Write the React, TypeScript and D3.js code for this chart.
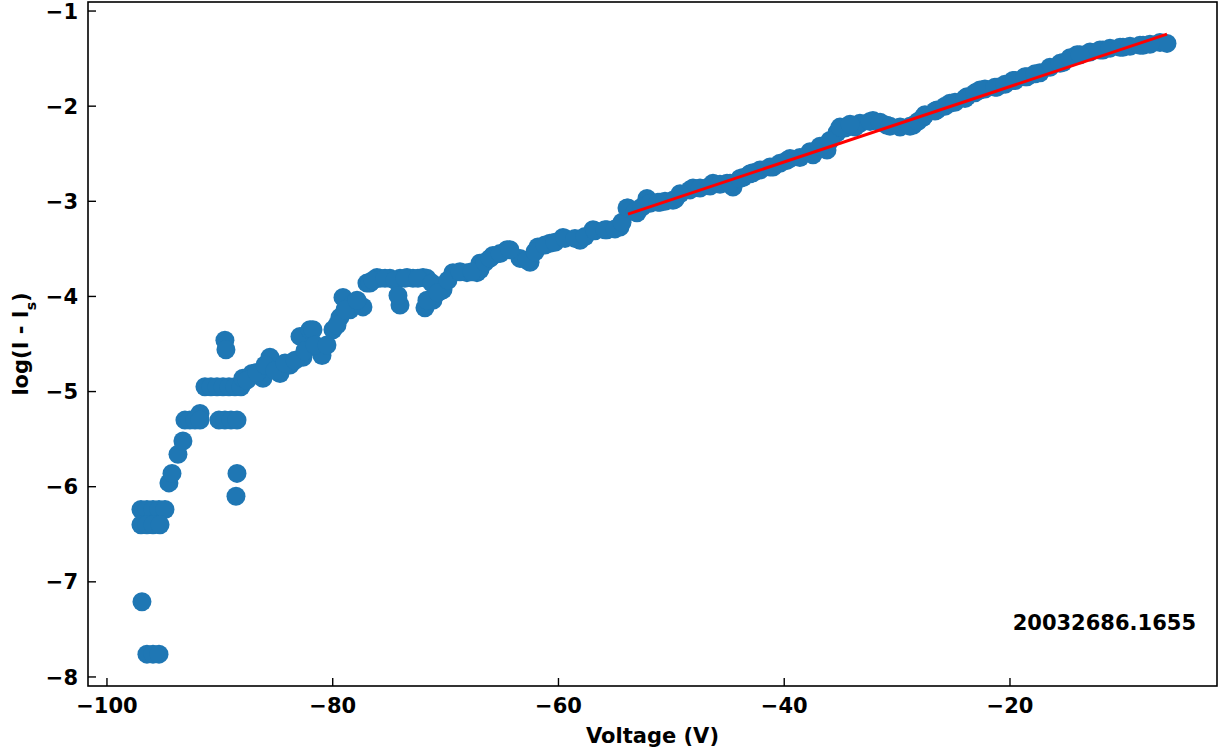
import React from "react";
import * as d3 from "d3";

const voltage: number[] = [
  -96.99, -96.46, -95.92, -95.39, -94.86,
  -96.99, -96.46, -95.92, -95.30,
  -96.90,
  -96.46, -95.92, -95.39,
  -94.51, -94.24, -93.71, -93.27, -93.09, -92.65, -92.20, -91.76, -91.76,
  -91.32, -90.79, -90.25, -89.72, -89.19, -88.66, -88.13,
  -89.55, -89.46,
  -90.08, -89.55, -89.01, -88.48,
  -88.48, -88.57,
  -87.95, -87.15, -86.18, -85.56, -84.67, -83.79, -82.64, -82.90, -82.02, -81.75,
  -80.95, -79.98, -79.36, -79.09, -78.47, -78.20, -77.32, -76.97, -76.70, -76.08,
  -75.81, -74.93, -74.04, -74.04, -73.42, -72.89, -72.00, -71.83, -71.65, -71.12,
  -70.23, -69.35, -68.11, -67.22, -66.95, -66.95, -65.80, -64.56, -63.41, -62.52,
  -61.82, -60.75, -59.60, -58.09, -56.94, -55.70, -54.55, -53.93, -53.04, -52.16,
  -51.01, -49.86, -48.35, -48.08, -46.31, -45.07, -44.54, -43.65, -42.77, -42.15,
  -40.99, -39.76, -38.61, -37.45, -36.21, -35.33, -34.44, -33.29, -32.14, -30.90,
  -29.74, -28.59, -27.71, -26.47, -25.32, -23.81, -22.66, -21.15, -19.73, -18.49,
  -17.34, -16.46, -15.30, -14.06, -12.91, -11.76, -9.99, -8.21, -6.71, -6.09,
  -87.60, -86.71, -86.00, -85.12, -84.23, -83.34, -82.46, -81.57,
  -80.51, -79.62, -78.91, -77.85, -76.43, -75.37, -74.48, -74.22, -73.60, -72.45,
  -71.65, -71.21, -70.68, -69.79, -68.73, -67.66, -66.51,
  -66.07, -65.18, -64.30, -62.79, -62.08, -61.20, -60.31, -59.42, -58.54, -57.65,
  -56.77, -55.88, -54.99, -54.37, -53.84, -53.22, -52.60, -51.89, -51.18, -50.56, -49.67,
  -49.23, -47.46, -46.57, -45.69, -44.80, -43.92, -43.03, -41.26, -40.38, -39.49,
  -37.72, -36.83, -35.95, -34.62, -33.73,
  -35.06, -34.17, -32.40, -31.51, -30.63, -28.86, -28.15, -27.53, -26.64, -25.76,
  -24.87, -23.99, -23.10, -22.22, -21.33, -20.44, -19.56, -18.67, -17.78,
  -15.57, -14.68, -13.80, -12.03, -11.14, -10.25, -9.37, -8.48, -7.60,
];

const logCurrent: number[] = [
  -6.24, -6.24, -6.24, -6.24, -6.24,
  -6.40, -6.40, -6.40, -6.40,
  -7.21,
  -7.76, -7.76, -7.76,
  -5.96, -5.86, -5.66, -5.52, -5.30, -5.30, -5.30, -5.23, -5.30,
  -4.95, -4.95, -4.95, -4.95, -4.95, -4.95, -4.95,
  -4.46, -4.56,
  -5.30, -5.30, -5.30, -5.30,
  -5.86, -6.10,
  -4.86, -4.81, -4.86, -4.64, -4.81, -4.72, -4.64, -4.42, -4.35, -4.35,
  -4.62, -4.35, -4.22, -4.01, -4.14, -4.07, -4.11, -3.86, -3.86, -3.80,
  -3.81, -3.81, -4.09, -3.81, -3.80, -3.81, -3.80, -4.12, -3.81, -4.04,
  -3.93, -3.75, -3.75, -3.75, -3.65, -3.72, -3.57, -3.51, -3.60, -3.64,
  -3.48, -3.44, -3.38, -3.41, -3.30, -3.30, -3.27, -3.07, -3.12, -2.97,
  -3.01, -2.99, -2.88, -2.86, -2.81, -2.81, -2.85, -2.75, -2.70, -2.67,
  -2.64, -2.57, -2.54, -2.51, -2.46, -2.28, -2.22, -2.18, -2.15, -2.20,
  -2.22, -2.20, -2.12, -2.04, -1.97, -1.90, -1.83, -1.80, -1.73, -1.69,
  -1.65, -1.59, -1.54, -1.46, -1.43, -1.41, -1.38, -1.36, -1.33, -1.34,
  -4.88, -4.80, -4.72, -4.78, -4.70, -4.67, -4.57, -4.51,
  -4.51, -4.30, -4.14, -4.04, -3.83, -3.81, -3.83, -3.99, -3.81, -3.81,
  -4.04, -3.86, -3.96, -3.83, -3.74, -3.74, -3.64,
  -3.60, -3.55, -3.51, -3.62, -3.53, -3.46, -3.43, -3.39, -3.39, -3.37,
  -3.31, -3.30, -3.29, -3.22, -3.07, -3.11, -3.06, -3.02, -3.01, -3.00, -2.98,
  -2.92, -2.86, -2.84, -2.82, -2.81, -2.76, -2.71, -2.64, -2.60, -2.55,
  -2.48, -2.42, -2.36, -2.23, -2.22,
  -2.22, -2.19, -2.16, -2.17, -2.21, -2.21, -2.16, -2.09, -2.05, -2.00,
  -1.96, -1.92, -1.86, -1.82, -1.80, -1.77, -1.73, -1.69, -1.66,
  -1.55, -1.49, -1.46, -1.41, -1.39, -1.38, -1.37, -1.36, -1.35,
];

const fitVoltage: number[] = [-53.84, -6.09];
const fitLog: number[] = [-3.135, -1.242];

const xTicks: number[] = [-100, -80, -60, -40, -20];
const yTicks: number[] = [-1, -2, -3, -4, -5, -6, -7, -8];

const annotation = "20032686.1655";

export default function App() {
  const W = 1219, H = 753;
  const left = 88, right = 1217, top = 2, bottom = 686;
  const x = d3.scaleLinear().domain([-101.68, -1.66]).range([left, right]);
  const y = d3.scaleLinear().domain([-0.905, -8.095]).range([top, bottom]);
  const font = "'DejaVu Sans', sans-serif";
  const fitLine = d3.line<number>()
    .x((_, i) => x(fitVoltage[i]))
    .y((d) => y(d));
  const fmt = (v: number) => (v < 0 ? "\u2212" + Math.abs(v) : String(v));
  const fs = 21;
  return (
    <svg width={W} height={H} style={{ position: "absolute", left: 0, top: 0, background: "#fff" }}
      fontFamily={font}>
      <rect x={0} y={0} width={W} height={H} fill="#fff" />
      <g>
        {voltage.map((v, i) => (
          <circle key={i} cx={x(v)} cy={y(logCurrent[i])} r={9.5} fill="#1f77b4" />
        ))}
      </g>
      <path d={fitLine(fitLog) || ""} stroke="#ff0000" strokeWidth={3} fill="none" />
      <rect x={left} y={top} width={right - left} height={bottom - top} fill="none" stroke="#000" strokeWidth={1.6} />
      {xTicks.map((t) => (
        <g key={"x" + t}>
          <line x1={x(t)} x2={x(t)} y1={bottom} y2={bottom - 8} stroke="#000" strokeWidth={1.4} />
          <text x={x(t)} y={bottom + 27} textAnchor="middle" fontSize={fs} fontWeight="bold">{fmt(t)}</text>
        </g>
      ))}
      {yTicks.map((t) => (
        <g key={"y" + t}>
          <line x1={left} x2={left + 8} y1={y(t)} y2={y(t)} stroke="#000" strokeWidth={1.4} />
          <text x={left - 10} y={y(t)} dy="0.36em" textAnchor="end" fontSize={fs} fontWeight="bold">{fmt(t)}</text>
        </g>
      ))}
      <text x={(left + right) / 2} y={743} textAnchor="middle" fontSize={fs} fontWeight="bold">Voltage (V)</text>
      <text transform={`translate(28, ${(top + bottom) / 2}) rotate(-90)`} textAnchor="middle" fontSize={fs} fontWeight="bold">
        log(I - I<tspan baselineShift="sub" fontSize={14}>s</tspan>)
      </text>
      <text x={1196} y={630} textAnchor="end" fontSize={fs} fontWeight="bold">{annotation}</text>
    </svg>
  );
}
